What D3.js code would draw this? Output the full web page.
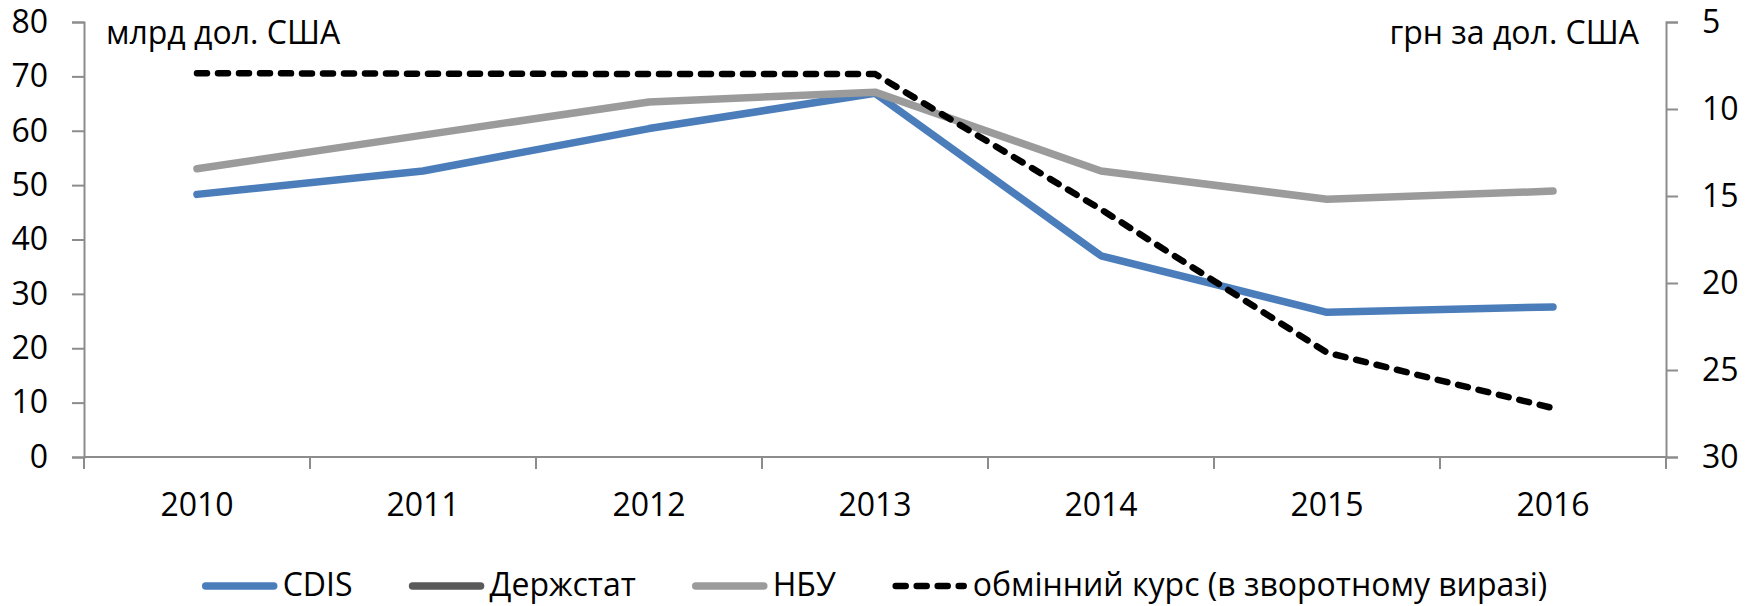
<!DOCTYPE html>
<html>
<head>
<meta charset="utf-8">
<script src="https://cdn.jsdelivr.net/npm/d3@7"></script>
<style>
  body { margin: 0; background: #fff; }
  svg text { font-family: "Open Sans", sans-serif; fill: #000; }
  .axis path, .axis line { stroke: #8c8c8c; stroke-width: 2px; }
</style>
</head>
<body>
<svg id="chart"></svg>
<script>
const years = ['2010', '2011', '2012', '2013', '2014', '2015', '2016'];
const cdis = [48.3, 52.6, 60.4, 66.9, 37.0, 26.6, 27.6];
const derzhstat = [null, null, null, null, null, null, null];
const nbu = [53.0, 59.2, 65.3, 67.1, 52.6, 47.4, 48.9];
const rate = [7.94, 7.97, 7.99, 7.99, 15.77, 24.0, 27.19];
const leftTicks = [0, 10, 20, 30, 40, 50, 60, 70, 80];
const rightTicks = [5, 10, 15, 20, 25, 30];

const W = 1752, H = 606;
const plotL = 84, plotR = 1666, plotT = 22, plotB = 457;
const fontSize = 32;

const svg = d3.select('#chart').attr('width', W).attr('height', H);

const x = d3.scaleBand().domain(years).range([plotL, plotR]);
const y = d3.scaleLinear().domain([0, 80]).range([plotB, plotT]);
const y2 = d3.scaleLinear().domain([5, 30]).range([plotT, plotB]);

// axes
const gx = svg.append('g').attr('class', 'axis')
  .attr('transform', 'translate(0,' + plotB + ')');
gx.call(d3.axisBottom(x).tickSize(0).tickFormat(''));
gx.selectAll('.domain').attr('d', 'M' + plotL + ',0H' + plotR);
gx.selectAll('.bnd').data(d3.range(years.length + 1)).enter()
  .append('line')
  .attr('x1', i => plotL + i * x.bandwidth())
  .attr('x2', i => plotL + i * x.bandwidth())
  .attr('y1', 0).attr('y2', 12);
gx.selectAll('.yr').data(years).enter()
  .append('text')
  .attr('x', d => x(d) + x.bandwidth() / 2)
  .attr('y', 59)
  .attr('text-anchor', 'middle')
  .style('font-size', fontSize + 'px')
  .text(d => d);

const gy = svg.append('g').attr('class', 'axis')
  .attr('transform', 'translate(' + plotL + ',0)')
  .call(d3.axisLeft(y).tickValues(leftTicks).tickSize(12).tickSizeOuter(12).tickPadding(24));
gy.selectAll('text').style('font-size', fontSize + 'px');

const gy2 = svg.append('g').attr('class', 'axis')
  .attr('transform', 'translate(' + plotR + ',0)')
  .call(d3.axisRight(y2).tickValues(rightTicks).tickSize(12).tickSizeOuter(12).tickPadding(24));
gy2.selectAll('text').style('font-size', fontSize + 'px');
svg.selectAll('.axis').attr('font-family', null).attr('font-size', null);
svg.selectAll('.axis text').style('fill', '#000');

// unit labels
svg.append('text').attr('x', 106).attr('y', 44)
  .style('font-size', fontSize + 'px').text('млрд дол. США');
svg.append('text').attr('x', 1639).attr('y', 44).attr('text-anchor', 'end')
  .style('font-size', fontSize + 'px').text('грн за дол. США');

// lines
const cx = d => x(d) + x.bandwidth() / 2;
const lineL = d3.line().defined(d => d[1] != null).x(d => cx(d[0])).y(d => y(d[1]));
const lineR = d3.line().x(d => cx(d[0])).y(d => y2(d[1]));

const series = [
  { name: 'CDIS', values: cdis, color: '#4a7dba', dash: null },
  { name: 'Держстат', values: derzhstat, color: '#5a5a5a', dash: null },
  { name: 'НБУ', values: nbu, color: '#9b9b9b', dash: null }
];

svg.selectAll('.series').data(series).enter()
  .append('path')
  .attr('fill', 'none')
  .attr('stroke', d => d.color)
  .attr('stroke-width', 7.5)
  .attr('stroke-linecap', 'round')
  .attr('stroke-linejoin', 'round')
  .attr('d', d => lineL(years.map((yr, i) => [yr, d.values[i]])));

svg.append('path')
  .attr('fill', 'none')
  .attr('stroke', '#000')
  .attr('stroke-width', 6.5)
  .attr('stroke-linecap', 'round')
  .attr('stroke-dasharray', '10,11')
  .attr('d', lineR(years.map((yr, i) => [yr, rate[i]])));

// legend
const legendItems = series.concat([{ name: 'обмінний курс (в зворотному виразі)', color: '#000', dash: '10,11' }]);
const leg = svg.append('g');
const items = leg.selectAll('g').data(legendItems).enter().append('g');
items.append('line')
  .attr('x1', 3).attr('x2', 71).attr('y1', 0).attr('y2', 0)
  .attr('stroke', d => d.color)
  .attr('stroke-width', d => d.dash ? 6.5 : 7.5)
  .attr('stroke-linecap', 'round')
  .attr('stroke-dasharray', d => d.dash);
items.append('text')
  .attr('x', 80).attr('y', 10)
  .style('font-size', fontSize + 'px')
  .text(d => d.name);

let pos = 0;
items.each(function () {
  const g = d3.select(this);
  g.attr('transform', 'translate(' + pos + ',0)');
  pos += 80 + g.select('text').node().getComputedTextLength() + 57;
});
const total = pos - 57;
leg.attr('transform', 'translate(' + ((plotL + plotR) / 2 - total / 2) + ',586)');
</script>
</body>
</html>
